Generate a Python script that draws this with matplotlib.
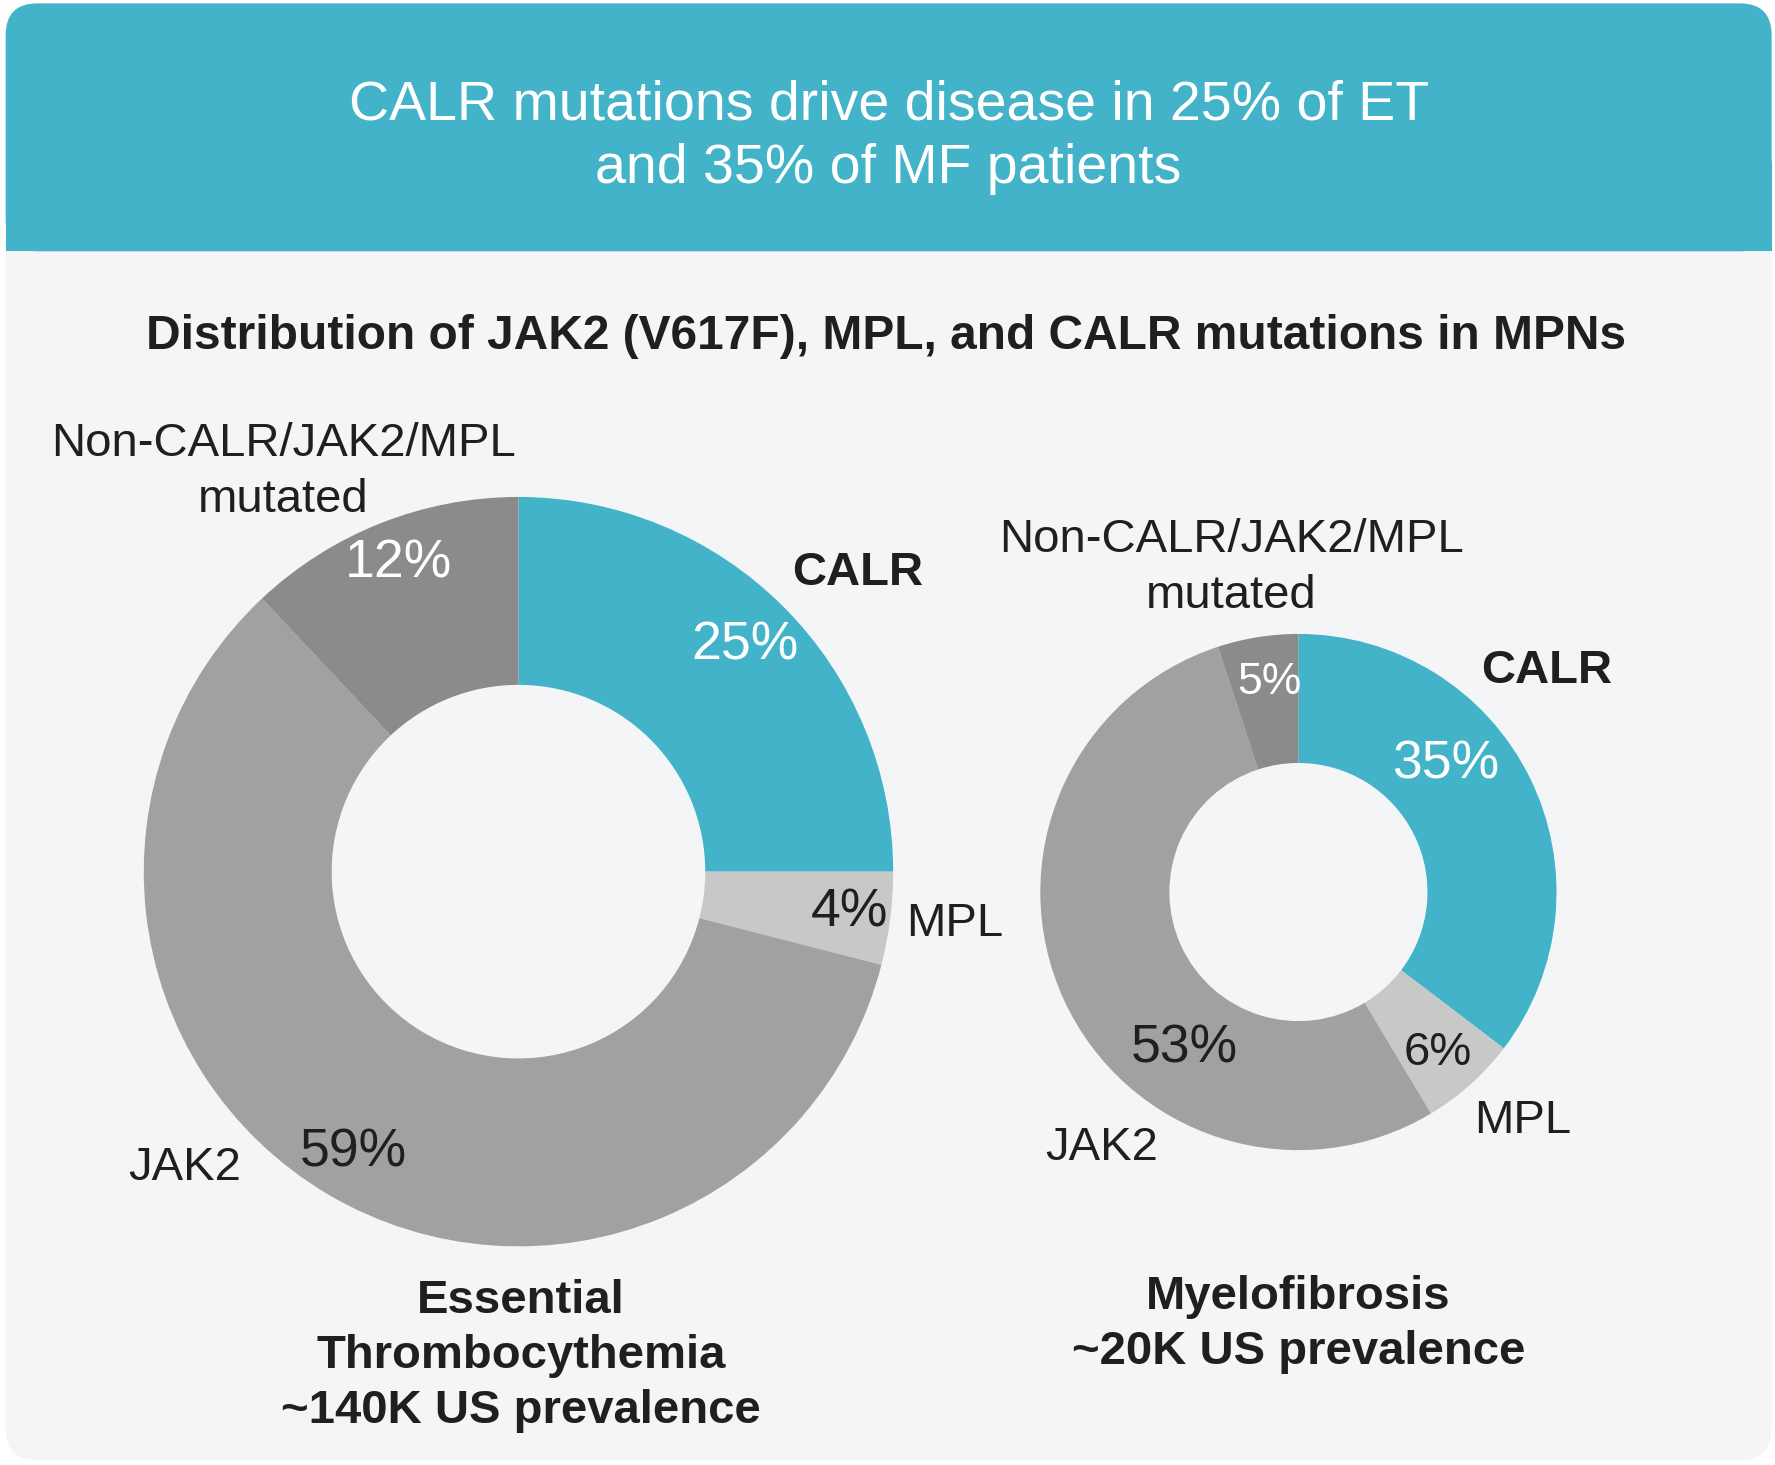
import matplotlib.pyplot as plt
from matplotlib.patches import FancyBboxPatch, Rectangle

plt.rcParams['font.family'] = ['Liberation Sans', 'DejaVu Sans']

# chart text and values
headline = 'CALR mutations drive disease in 25% of ET\nand 35% of MF patients'
subtitle = 'Distribution of JAK2 (V617F), MPL, and CALR mutations in MPNs'
segments = ['CALR', 'MPL', 'JAK2', 'Non-CALR/JAK2/MPL\nmutated']
et_values = [25, 4, 59, 12]
mf_values = [35, 6, 53, 5]
et_caption = 'Essential\nThrombocythemia\n~140K US prevalence'
mf_caption = 'Myelofibrosis\n~20K US prevalence'

teal = '#42b3c8'
colors = [teal, '#c8c8c8', '#a1a1a1', '#8b8b8b']
dark = '#1f1f1f'
panel = '#f4f5f7'

# work in a 1568-wide coordinate frame, y measured from the top
W = 1568
H = W * 1465 / 1775


def Y(y):
    return H - y


fig = plt.figure(figsize=(17.75, 14.65), dpi=100)
fig.patch.set_facecolor('white')
ax = fig.add_axes([0, 0, 1, 1])

# light panel with rounded corners
r = 28
ax.add_patch(FancyBboxPatch((5 + r, Y(1290) + r), 1560 - 2 * r, 1287 - 2 * r,
                            boxstyle='round,pad=%d' % r, fc=panel, ec='none'))
# teal header, rounded on top only
ax.add_patch(FancyBboxPatch((5 + r, Y(222) + r), 1560 - 2 * r, 219 - 2 * r,
                            boxstyle='round,pad=%d' % r, fc=teal, ec='none'))
ax.add_patch(Rectangle((5, Y(222)), 1560, 80, fc=teal, ec='none'))

ax.text(785, Y(121), headline, ha='center', va='center', fontsize=40,
        color='white', linespacing=1.29)
ax.text(783, Y(297), subtitle, ha='center', va='center', fontsize=34.5,
        fontweight='bold', color=dark)

# donuts
wp_et = dict(width=166, edgecolor='none', linewidth=0)
ax.pie(et_values, colors=colors, radius=331, center=(458, Y(770)),
       startangle=90, counterclock=False, wedgeprops=wp_et, frame=True)
wp_mf = dict(width=114, edgecolor='none', linewidth=0)
ax.pie(mf_values, colors=colors, radius=228, center=(1147, Y(788)),
       startangle=90, counterclock=False, wedgeprops=wp_mf, frame=True)

ax.set_xlim(0, W)
ax.set_ylim(0, H)
ax.axis('off')

# ET labels
ax.text(250, Y(417), segments[3], ha='center', va='center', fontsize=34,
        color=dark, linespacing=1.36)
ax.text(758, Y(506), segments[0], ha='center', va='center', fontsize=34,
        fontweight='bold', color=dark)
ax.text(843, Y(816), segments[1], ha='center', va='center', fontsize=34, color=dark)
ax.text(163, Y(1032), segments[2], ha='center', va='center', fontsize=34, color=dark)

ax.text(658, Y(570), f'{et_values[0]}%', ha='center', va='center', fontsize=38.5, color='white')
ax.text(750, Y(806), f'{et_values[1]}%', ha='center', va='center', fontsize=38.5, color=dark)
ax.text(312, Y(1018), f'{et_values[2]}%', ha='center', va='center', fontsize=38.5, color=dark)
ax.text(352, Y(498), f'{et_values[3]}%', ha='center', va='center', fontsize=38.5, color='white')

# MF labels
ax.text(1088, Y(502), segments[3], ha='center', va='center', fontsize=34,
        color=dark, linespacing=1.36)
ax.text(1366, Y(593), segments[0], ha='center', va='center', fontsize=34,
        fontweight='bold', color=dark)
ax.text(1345, Y(990), segments[1], ha='center', va='center', fontsize=34, color=dark)
ax.text(973, Y(1014), segments[2], ha='center', va='center', fontsize=34, color=dark)

ax.text(1277, Y(675), f'{mf_values[0]}%', ha='center', va='center', fontsize=38.5, color='white')
ax.text(1270, Y(930), f'{mf_values[1]}%', ha='center', va='center', fontsize=34, color=dark)
ax.text(1046, Y(926), f'{mf_values[2]}%', ha='center', va='center', fontsize=38.5, color=dark)
ax.text(1121, Y(603), f'{mf_values[3]}%', ha='center', va='center', fontsize=32, color='white')

# captions
ax.text(460, Y(1198), et_caption, ha='center', va='center', fontsize=34,
        fontweight='bold', color=dark, linespacing=1.33)
ax.text(1147, Y(1170), mf_caption, ha='center', va='center', fontsize=34,
        fontweight='bold', color=dark, linespacing=1.33)

fig.savefig('out.png', dpi=100, facecolor=fig.get_facecolor())
